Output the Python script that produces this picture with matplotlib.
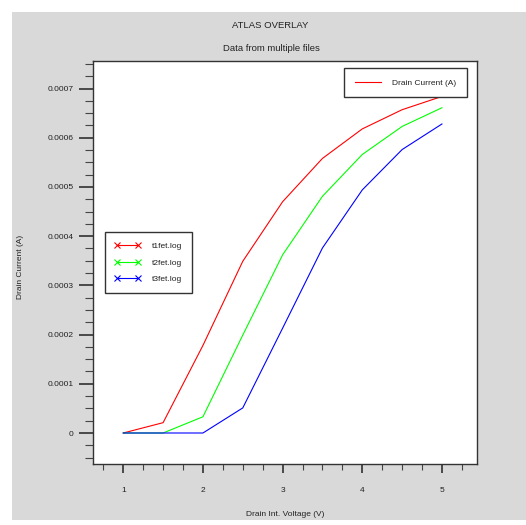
import numpy as np
import matplotlib
matplotlib.use('Agg')
import matplotlib.pyplot as plt
from matplotlib.lines import Line2D
from matplotlib.patches import Rectangle
from matplotlib.ticker import MultipleLocator, FuncFormatter

# data
voltage = [1.0, 1.5, 2.0, 2.5, 3.0, 3.5, 4.0, 4.5, 5.0]
t1fet = [0.0, 0.000021, 0.000178, 0.000349, 0.000470, 0.000558, 0.000618, 0.000657, 0.000684]
t2fet = [0.0, 0.0, 0.000033, 0.000199, 0.000362, 0.000481, 0.000566, 0.000623, 0.000661]
t3fet = [0.0, 0.0, 0.0, 0.000051, 0.000213, 0.000376, 0.000494, 0.000576, 0.000628]
file_names = ['t1fet.log', 't2fet.log', 't3fet.log']
line_colors = ['#ff0000', '#00ff00', '#0000ff']
x_ticks = [1, 2, 3, 4, 5]
y_ticks = [0, 0.0001, 0.0002, 0.0003, 0.0004, 0.0005, 0.0006, 0.0007]

plt.rcParams['font.family'] = ['Liberation Sans', 'DejaVu Sans']
txt_color = '#222222'
fs = 6

fig = plt.figure(figsize=(5.26, 5.25), dpi=100, facecolor='white')
# gray panel behind the plot (ATLAS style window)
fig.patches.append(Rectangle((12 / 526, 1 - 520 / 525), 1 - 12 / 526, 508 / 525,
                             transform=fig.transFigure, facecolor='#d9d9d9',
                             edgecolor='none', zorder=-10))

ax = fig.add_axes([93 / 526, 1 - 464 / 525, 384 / 526, 403 / 525])
ax.set_facecolor('white')
ax.set_zorder(1)

for ys, c in zip([t1fet, t2fet, t3fet], line_colors):
    ax.plot(voltage, ys, color=c, linewidth=0.8)

ax.set_xlim(0.62, 5.44)
ax.set_ylim(-0.000063, 0.000756)
ax.set_xticks(x_ticks)
ax.set_yticks(y_ticks)
ax.xaxis.set_minor_locator(MultipleLocator(0.25))
ax.yaxis.set_minor_locator(MultipleLocator(0.000025))
ax.xaxis.set_major_formatter(FuncFormatter(lambda v, p: f'{v:.0f}'))
ax.yaxis.set_major_formatter(FuncFormatter(lambda v, p: '0' if abs(v) < 1e-12 else f'{v:.4f}'))

ax.tick_params(axis='x', which='major', direction='out', length=6.5, width=1.1,
               pad=10, labelsize=fs, labelcolor=txt_color, color='#222222')
ax.tick_params(axis='x', which='minor', direction='out', length=4, width=0.8, color='#444444')
ax.tick_params(axis='y', which='major', direction='out', length=10, width=1.1,
               pad=4, labelsize=fs, labelcolor=txt_color, color='#222222')
ax.tick_params(axis='y', which='minor', direction='out', length=5.5, width=0.8, color='#444444')
for s in ax.spines.values():
    s.set_linewidth(1.0)
    s.set_color('#333333')

# titles and axis labels
fig.text(270 / 526, 1 - 26 / 525, 'ATLAS OVERLAY', ha='center', va='center',
         fontsize=6.8, color=txt_color)
fig.text(271 / 526, 1 - 48.5 / 525, 'Data from multiple files', ha='center', va='center',
         fontsize=6.8, color=txt_color)
fig.text(285 / 526, 1 - 515 / 525, 'Drain Int. Voltage (V)', ha='center', va='center',
         fontsize=fs, color=txt_color)
fig.text(20 / 526, 1 - 267 / 525, 'Drain Current (A)', ha='center', va='center',
         rotation=90, fontsize=fs, color=txt_color)

# legend for the quantity
h1 = [Line2D([0], [0], color='#ff0000', linewidth=0.8)]
leg1 = ax.legend(h1, ['Drain Current (A)'], loc='upper right',
                 bbox_to_anchor=(0.975, 0.983), borderaxespad=0, fontsize=fs,
                 handlelength=3.1, handletextpad=1.4, borderpad=1.3,
                 fancybox=False, framealpha=1, edgecolor='#333333')
leg1.get_frame().set_linewidth(1.0)
for t in leg1.get_texts():
    t.set_color(txt_color)
ax.add_artist(leg1)

# legend for the files
h2 = [Line2D([0], [0], color=c, linewidth=0.8, marker='x', markersize=4,
             markeredgewidth=0.8) for c in line_colors]
leg2 = ax.legend(h2, file_names, loc='upper left', bbox_to_anchor=(0.031, 0.575),
                 borderaxespad=0, fontsize=fs, numpoints=2, handlelength=3.1,
                 handletextpad=1.3, borderpad=1.2, labelspacing=1.05,
                 fancybox=False, framealpha=1, edgecolor='#333333')
leg2.get_frame().set_linewidth(1.0)
for t in leg2.get_texts():
    t.set_color(txt_color)

fig.savefig('out.png', dpi=100, facecolor=fig.get_facecolor())
